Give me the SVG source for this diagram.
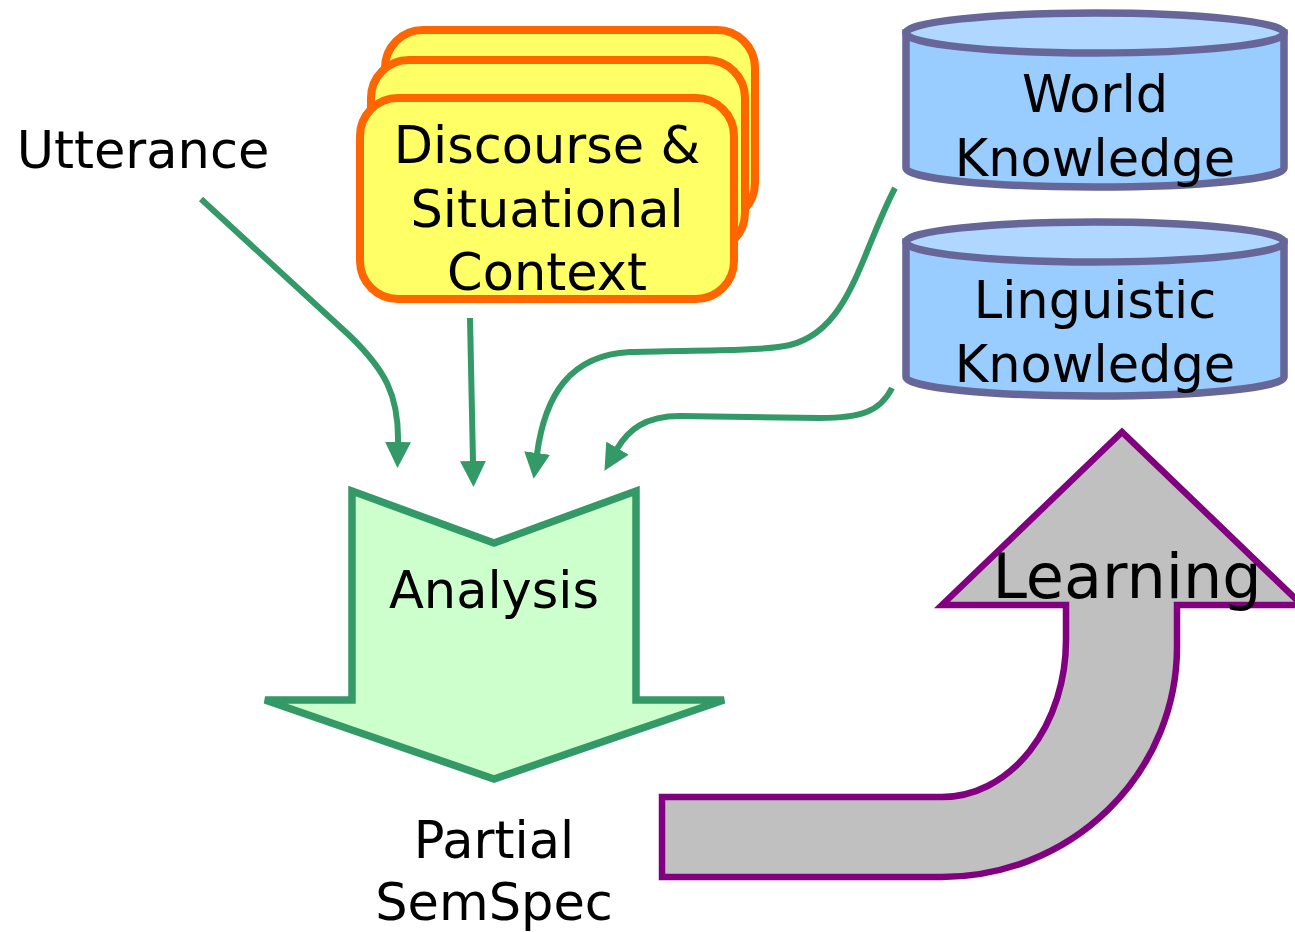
<svg xmlns="http://www.w3.org/2000/svg" width="1295" height="932" viewBox="0 0 1295 932">
<style>
text{font-family:"DejaVu Sans","Verdana",sans-serif;font-size:51px;fill:#000;text-anchor:middle}
.card{fill:#FFFF66;stroke:#FF6600;stroke-width:8}
.cylb{fill:#99CCFF;stroke:#666699;stroke-width:7.5}
.cylt{fill:#AFD7FF;stroke:#666699;stroke-width:7.5}
.conn{fill:none;stroke:#339966;stroke-width:6;marker-end:url(#ah)}
</style>
<defs>
<marker id="ah" markerUnits="userSpaceOnUse" markerWidth="26" markerHeight="26" viewBox="0 0 26 26" refX="1" refY="13" orient="auto">
<path d="M0,0 L26,13 L0,26 Z" fill="#339966"/>
</marker>
</defs>
<rect width="1295" height="932" fill="#fff"/>

<g id="utterance"><text x="143" y="168">Utterance</text></g>

<g id="context">
<rect class="card" x="385" y="30" width="370" height="191" rx="38"/>
<rect class="card" x="371" y="60" width="374" height="191" rx="38"/>
<rect class="card" x="360" y="98" width="374" height="201" rx="38"/>
<text x="547" y="163">Discourse &amp;</text>
<text x="547" y="227">Situational</text>
<text x="547" y="290">Context</text>
</g>

<g id="world">
<path class="cylb" d="M906,33 L906,168 A189,19 0 0 0 1284,168 L1284,33 Z"/>
<ellipse class="cylt" cx="1095" cy="33" rx="189" ry="20"/>
<text x="1095" y="112">World</text>
<text x="1095" y="176">Knowledge</text>
</g>

<g id="linguistic">
<path class="cylb" d="M906,242 L906,377 A189,19 0 0 0 1284,377 L1284,242 Z"/>
<ellipse class="cylt" cx="1095" cy="242" rx="189" ry="20"/>
<text x="1095" y="318">Linguistic</text>
<text x="1095" y="382">Knowledge</text>
</g>

<g id="analysis">
<polygon points="352,491 494,543 636,491 636,700 724,700 494,779 265,700 352,700" fill="#CCFFCC" stroke="#339966" stroke-width="7.5"/>
<text x="494" y="608">Analysis</text>
</g>

<g id="semspec">
<text x="494" y="858">Partial</text>
<text x="494" y="920">SemSpec</text>
</g>

<g id="learning">
<path d="M662,797 L942,797 A124,157 0 0 0 1066,640 L1066,605 L942,605 L1122,432 L1302,605 L1177,605 L1177,647 A235,230 0 0 1 942,877 L662,877 Z" fill="#C0C0C0" stroke="#800080" stroke-width="6.5"/>
<text x="1127" y="598" style="font-size:62px">Learning</text>
</g>

<g id="connectors">
<path class="conn" d="M201,199 L350,336 C385,370 399,395 398,443"/>
<path class="conn" d="M470,318 L473,462"/>
<path class="conn" d="M895,188 C860,255 850,330 790,345 C760,352 680,350 630,352 C570,355 545,395 537,454"/>
<path class="conn" d="M892,388 C880,412 860,418 820,418 L680,416 C645,416 628,430 617,449"/>
</g>
</svg>
